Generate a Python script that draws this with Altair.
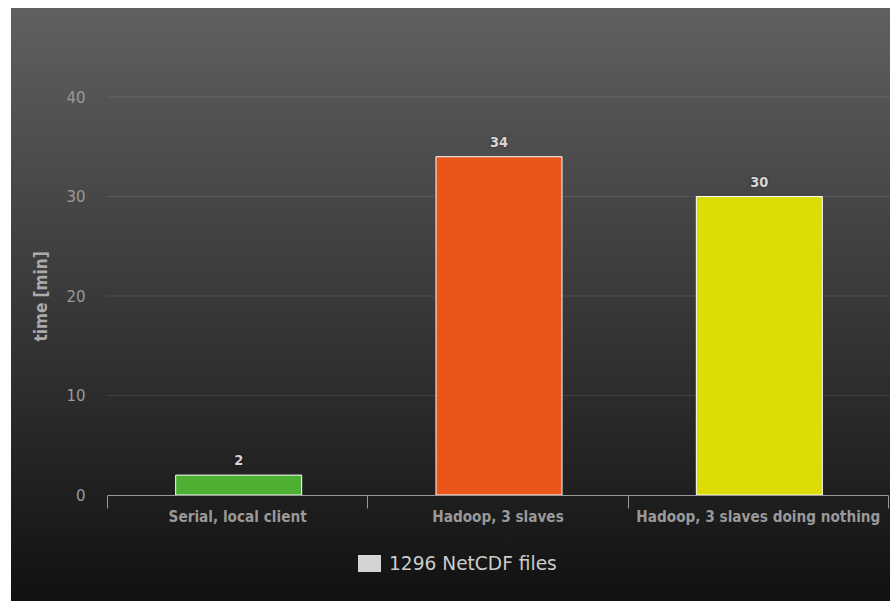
import altair as alt
import pandas as pd

# ---- data -------------------------------------------------------------
categories = ["Serial, local client", "Hadoop, 3 slaves", "Hadoop, 3 slaves doing nothing"]
values = [2, 34, 30]
bar_colors = ["#4DB032", "#EA561A", "#DDDD06"]
series_name = "1296 NetCDF files"
y_ticks = [0, 10, 20, 30, 40]
grid_values = [10, 20, 30, 40]

df = pd.DataFrame({"category": categories, "value": values,
                   "series": [series_name] * len(categories)})
grid_df = pd.DataFrame({"v": grid_values})

# ---- layout -----------------------------------------------------------
W, H = 781, 398
PAD = dict(left=107, top=97, right=6, bottom=106)

COND = "'DejaVu Sans Condensed', 'DejaVu Sans', sans-serif"
SANS = "'DejaVu Sans', sans-serif"

y_scale = alt.Scale(domain=[0, 40], nice=False)
y_axis = alt.Axis(values=y_ticks, grid=False, domain=False, ticks=False, tickSize=0,
                  labelColor="#999999", labelFont=SANS, labelFontSize=15, labelPadding=22,
                  title="time [min]", titleColor="#aaaaaa", titleFont=COND,
                  titleFontSize=17, titleFontWeight="bold", titlePadding=15, zindex=1)

x_axis = alt.Axis(title=None, labelAngle=0, tickBand="extent", tickSize=13,
                  tickColor="#999999", domainColor="#999999", labelColor="#999999",
                  labelFont=COND, labelFontSize=15.2, labelFontWeight="bold",
                  labelPadding=1, labelLimit=0, grid=False, zindex=1)

x_enc = alt.X("category:N", sort=categories,
              scale=alt.Scale(paddingInner=0, paddingOuter=0), axis=x_axis)
y_enc = alt.Y("value:Q", scale=y_scale, axis=y_axis)

bg = alt.Chart(alt.Data(values=[{"a": 1}])).mark_rect(
    fill=alt.Gradient(gradient="linear",
                      stops=[alt.GradientStop(color="#606060", offset=0),
                             alt.GradientStop(color="#101010", offset=1)],
                      x1=0, x2=0, y1=0, y2=1)
).encode(x=alt.value(-96), x2=alt.value(783), y=alt.value(-89), y2=alt.value(510))

grid = alt.Chart(grid_df).mark_rule(color="#ffffff", opacity=0.1, strokeWidth=1).encode(
    y=alt.Y("v:Q", scale=y_scale, axis=y_axis),
    x=alt.value(0), x2=alt.value(783))

bars = alt.Chart(df).mark_bar(width=alt.RelativeBandSize(0.484), stroke="white",
                              strokeWidth=1, xOffset=1.5).encode(
    x=x_enc, y=y_enc,
    fill=alt.Fill("category:N", scale=alt.Scale(domain=categories, range=bar_colors),
                  legend=None))

shadow = alt.Chart(df).mark_text(font=COND, fontSize=14.5, fontWeight="bold", dy=-10,
                                 dx=1.5, baseline="alphabetic", fill="black",
                                 stroke="black", strokeWidth=3, opacity=0.12).encode(
    x=x_enc, y=y_enc, text="value:Q")

labels = alt.Chart(df).mark_text(font=COND, fontSize=14.5, fontWeight="bold", dy=-10,
                                 dx=1.5, baseline="alphabetic").encode(
    x=x_enc, y=y_enc, text="value:Q",
    color=alt.Color("series:N", scale=alt.Scale(range=["#d4d4d4"]),
                    legend=alt.Legend(title=None, orient="none", legendX=251, legendY=455,
                                      symbolType="M-1,-0.74H1V0.74H-1Z", symbolSize=529,
                                      symbolStrokeWidth=0, symbolFillColor="#cccccc",
                                      labelFont=SANS, labelFontSize=18.6, labelLimit=0,
                                      labelColor="#cccccc", labelOffset=8, zindex=1)))

chart = alt.layer(bg, grid, bars, shadow, labels).properties(
    width=W, height=H, padding=PAD, background="white",
    autosize=alt.AutoSizeParams(type="none")
).configure_view(strokeWidth=0)

chart.save("out.html", embed_options={"renderer": "svg", "actions": False})
